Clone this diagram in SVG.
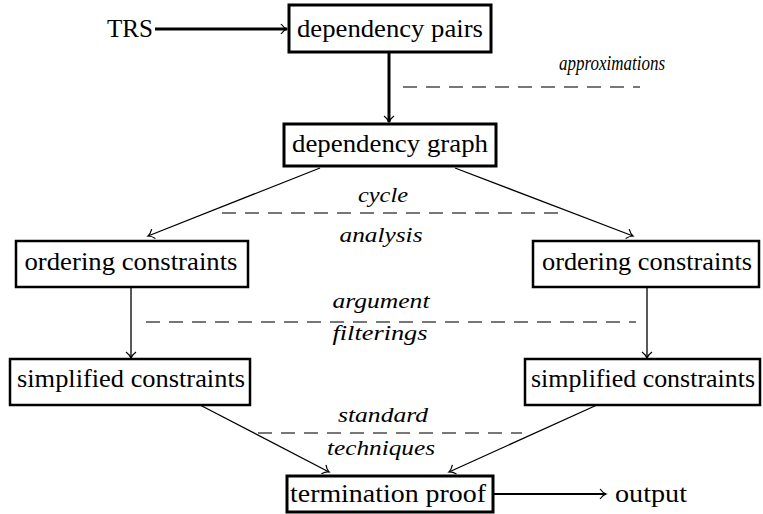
<svg xmlns="http://www.w3.org/2000/svg" width="763" height="514" viewBox="0 0 763 514">
<style>
.box{fill:#fff;stroke:#000;stroke-width:2.5}
.bold{stroke-width:3}
.t{font-family:'Liberation Serif',serif;font-size:26px;text-anchor:middle;fill:#000}
.l{font-family:'Liberation Serif',serif;font-size:20px;font-style:italic;text-anchor:middle;fill:#000}
.thin{stroke:#000;stroke-width:1.3;fill:none;marker-end:url(#ah)}
.thick{stroke:#000;stroke-width:3;fill:none;marker-end:url(#ah)}
.dash{stroke:#777;stroke-width:2;stroke-dasharray:14 9;fill:none}
</style>
<defs>
<marker id="ah" markerWidth="12" markerHeight="12" refX="8" refY="6" orient="auto" markerUnits="userSpaceOnUse">
<path d="M2,1 Q5,5 8,6 Q5,7 2,11" fill="none" stroke="#000" stroke-width="1.2"/>
</marker>
</defs>
<g id="connectors">
<line class="thick" x1="155" y1="29" x2="287" y2="29"/>
<line class="thick" x1="389" y1="52" x2="389" y2="122"/>
<line class="thin" x1="320" y1="168" x2="148" y2="236"/>
<line class="thin" x1="455" y1="168" x2="633" y2="236"/>
<line class="thin" x1="131" y1="287" x2="131" y2="358"/>
<line class="thin" x1="647" y1="287" x2="647" y2="358"/>
<line class="thin" x1="200" y1="405" x2="329" y2="472"/>
<line class="thin" x1="597" y1="405" x2="449" y2="472"/>
<line class="thick" x1="493" y1="494" x2="606" y2="494" style="stroke-width:2"/>
</g>
<g id="dashes">
<line class="dash" x1="403" y1="87" x2="640" y2="87"/>
<line class="dash" x1="222" y1="213" x2="560" y2="213"/>
<line class="dash" x1="146" y1="322" x2="636" y2="322"/>
<line class="dash" x1="258" y1="433" x2="522" y2="433"/>
</g>
<g id="labels">
<text class="l" x="612" y="70" textLength="106" lengthAdjust="spacingAndGlyphs">approximations</text>
<text class="l" x="383" y="202" textLength="50" lengthAdjust="spacingAndGlyphs">cycle</text>
<text class="l" x="381" y="242" textLength="83" lengthAdjust="spacingAndGlyphs">analysis</text>
<text class="l" x="381" y="308" textLength="97" lengthAdjust="spacingAndGlyphs">argument</text>
<text class="l" x="380" y="340" textLength="95" lengthAdjust="spacingAndGlyphs">filterings</text>
<text class="l" x="383" y="422" textLength="90" lengthAdjust="spacingAndGlyphs">standard</text>
<text class="l" x="381" y="455" textLength="108" lengthAdjust="spacingAndGlyphs">techniques</text>
</g>
<g id="trs"><text class="t" x="130" y="37" textLength="46" lengthAdjust="spacingAndGlyphs">TRS</text></g>
<g id="output"><text class="t" x="651" y="502" textLength="72" lengthAdjust="spacingAndGlyphs">output</text></g>
<g id="dep-pairs"><rect class="box bold" x="289" y="5" width="202" height="47"/><text class="t" x="390" y="37" textLength="186" lengthAdjust="spacingAndGlyphs">dependency pairs</text></g>
<g id="dep-graph"><rect class="box bold" x="284" y="124" width="212" height="42"/><text class="t" x="390" y="152" textLength="196" lengthAdjust="spacingAndGlyphs">dependency graph</text></g>
<g id="ord-left"><rect class="box" x="16" y="241" width="232" height="46"/><text class="t" x="131" y="270" textLength="213" lengthAdjust="spacingAndGlyphs">ordering constraints</text></g>
<g id="ord-right"><rect class="box" x="533" y="241" width="226" height="46"/><text class="t" x="647" y="270" textLength="210" lengthAdjust="spacingAndGlyphs">ordering constraints</text></g>
<g id="simp-left"><rect class="box" x="10" y="359" width="240" height="46"/><text class="t" x="131" y="387" textLength="228" lengthAdjust="spacingAndGlyphs">simplified constraints</text></g>
<g id="simp-right"><rect class="box" x="525" y="359" width="235" height="46"/><text class="t" x="643" y="387" textLength="224" lengthAdjust="spacingAndGlyphs">simplified constraints</text></g>
<g id="term"><rect class="box bold" x="287" y="476" width="206" height="36"/><text class="t" x="388" y="502" textLength="196" lengthAdjust="spacingAndGlyphs">termination proof</text></g>
</svg>
